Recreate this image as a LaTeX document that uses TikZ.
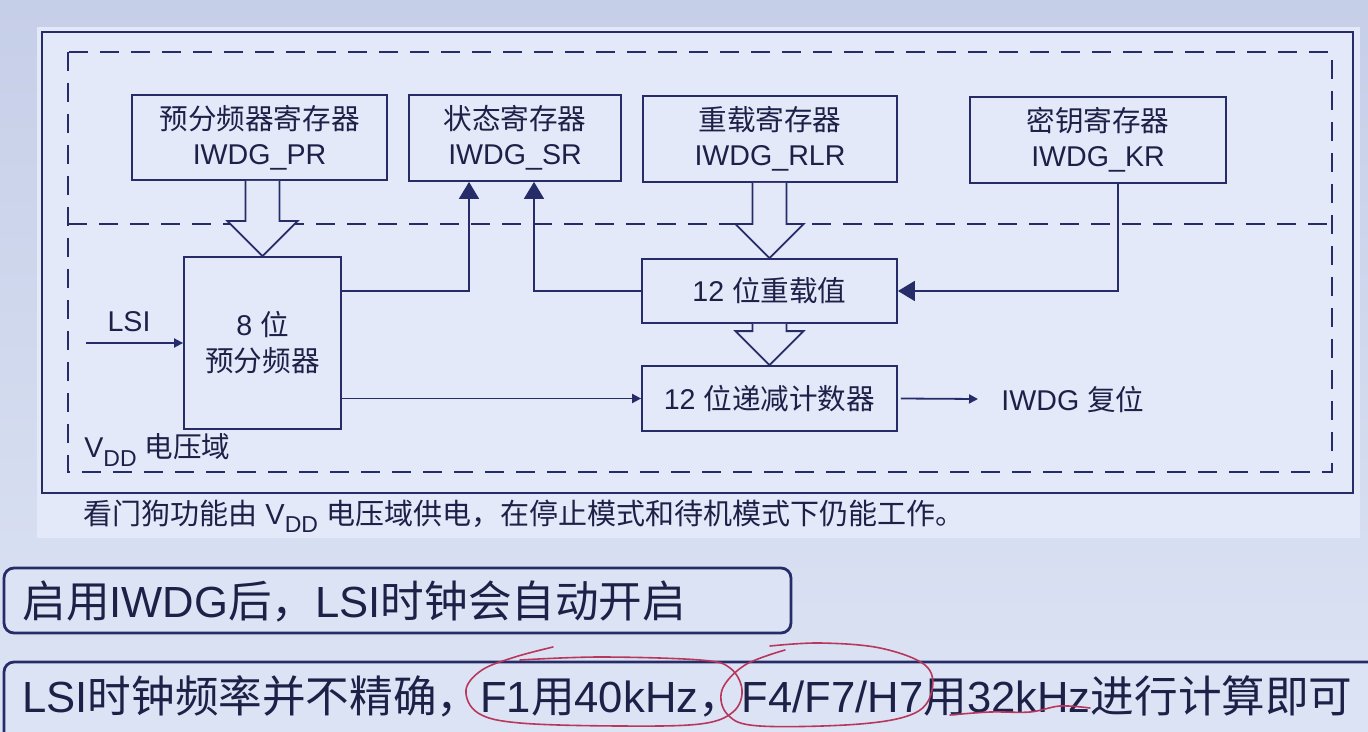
\documentclass[tikz,border=0pt]{standalone}
\usepackage{fontspec}
\setmainfont{Liberation Sans}
\newfontfamily\cjk{Noto Sans CJK SC}
\usetikzlibrary{arrows.meta,calc}
\newcommand\C[1]{{\cjk #1}}
\newcommand\Vdd{V\raisebox{-0.28em}{\fontsize{11.5}{12}\selectfont DD}}
\definecolor{bgtop}{HTML}{C6CFE8}
\definecolor{bgbot}{HTML}{DCE3F4}
\definecolor{panel}{HTML}{E3E9F8}
\definecolor{linec}{HTML}{262C68}
\definecolor{txt}{HTML}{1D2148}
\definecolor{pen}{HTML}{B8375C}
\tikzset{
  lc/.style={draw=linec, line width=0.9pt},
  reg/.style={lc, fill=panel, inner sep=0pt, align=center, text=txt,
    font=\fontsize{14.3}{17.5}\selectfont},
  lab/.style={text=txt, inner sep=0pt, font=\fontsize{14.3}{17.5}\selectfont},
  big/.style={lc, -{Triangle[length=8.5pt,width=10pt]}},
  small/.style={lc, -{Triangle[length=4.5pt,width=4.5pt]}},
  hollow/.style={lc, fill=panel},
  dash box/.style={draw=linec, line width=0.9pt, dash pattern=on 9.5pt off 6pt},
  note/.style={draw=linec, line width=1.4pt, fill=bgbot, rounded corners=5pt},
  notetext/.style={text=txt, inner sep=0pt, anchor=west, font=\fontsize{21.8}{26}\selectfont},
  redpen/.style={draw=pen, line width=0.8pt, line cap=round}
}
\begin{document}
\begin{tikzpicture}[x=0.5pt,y=-0.5pt]
\useasboundingbox (0,0) rectangle (1368,732);
\clip (0,0) rectangle (1368,732);
\shade[top color=bgtop, bottom color=bgbot] (0,0) rectangle (1368,732);

% panel
\fill[panel] (37,27) rectangle (1360,538);
\draw[lc] (42,32) rectangle (1353,493);
\draw[dash box] (68,52) rectangle (1332,472);
\draw[dash box] (68,224) -- (1332,224);

% register boxes
\node[reg, minimum width=127.5pt, minimum height=42.5pt] (pr) at (259.5,137.5) {\C{预分频器寄存器}\\IWDG\_PR};
\node[reg, minimum width=106pt, minimum height=43pt] (sr) at (515,138) {\C{状态寄存器}\\IWDG\_SR};
\node[reg, minimum width=127pt, minimum height=43pt] (rlr) at (770,139) {\C{重载寄存器}\\IWDG\_RLR};
\node[reg, minimum width=128pt, minimum height=43pt] (kr) at (1098,140) {\C{密钥寄存器}\\IWDG\_KR};

% lower blocks
\node[reg, minimum width=78.5pt, minimum height=86pt, font=\fontsize{14.3}{18}\selectfont] (pre) at (262.5,343) {8 \C{位}\\\C{预分频器}};
\node[reg, minimum width=127.5pt, minimum height=32pt] (rv) at (769.5,291) {12 \C{位重载值}};
\node[reg, minimum width=127.5pt, minimum height=32.5pt] (cnt) at (769.5,398.5) {12 \C{位递减计数器}};

% hollow arrows
\draw[hollow] let \p1=(pr.south), \p2=(pre.north) in
  (\x2-8.5pt,\y1) -- (\x2-8.5pt,\y2+17.5pt) -- (\x2-17.5pt,\y2+17.5pt) -- (\x2,\y2)
  -- (\x2+17.5pt,\y2+17.5pt) -- (\x2+8.5pt,\y2+17.5pt) -- (\x2+8.5pt,\y1);
\draw[hollow] let \p1=(rlr.south), \p2=(rv.north) in
  (\x2-8.5pt,\y1) -- (\x2-8.5pt,\y2+17pt) -- (\x2-17pt,\y2+17pt) -- (\x2,\y2)
  -- (\x2+17pt,\y2+17pt) -- (\x2+8.5pt,\y2+17pt) -- (\x2+8.5pt,\y1);
\draw[hollow] let \p1=(rv.south), \p2=(cnt.north) in
  (\x2-8.5pt,\y1) -- (\x2-8.5pt,\y2+17pt) -- (\x2-17pt,\y2+17pt) -- (\x2,\y2)
  -- (\x2+17pt,\y2+17pt) -- (\x2+8.5pt,\y2+17pt) -- (\x2+8.5pt,\y1);

% connectors
\draw[big] (pre.east |- rv.west) -| ([xshift=-23pt]sr.south);
\draw[big] (rv.west) -| ([xshift=9.5pt]sr.south);
\draw[big] ([xshift=10pt]kr.south) |- (rv.east);

\coordinate (lsiin) at (86,343);
\node[lab] (lsi) at (129,322) {LSI};
\draw[small] (lsiin) -- (pre.west);
\draw[small] (pre.east |- cnt.west) -- (cnt.west);
\coordinate (rstout) at (978,399);
\draw[small] ([xshift=1.5pt]cnt.east) -- (rstout);
\node[lab, anchor=west] (rst) at (1001,400) {IWDG \C{复位}};
\node[lab, anchor=west] (vdd) at (84,450) {\Vdd{} \C{电压域}};

% caption
\node[lab, anchor=west, font=\fontsize{14.5}{17.5}\selectfont] (cap) at (83,516) {\C{看门狗功能由} \Vdd{} \C{电压域供电，在停止模式和待机模式下仍能工作。}};

% notes
\path[note] (4,568) rectangle (791,633);
\node[notetext] (n1) at (22,601) {\C{启用}IWDG\C{后，}LSI\C{时钟会自动开启}};
\path[note] (4,662) rectangle (1400,770);
\node[notetext] (n2) at (22,696) {LSI\C{时钟频率并不精确，}F1\C{用}40kHz\C{，}F4/F7/H7\C{用}32kHz\C{进行计算即可}};

% red pen marks
\draw[redpen] plot[smooth, tension=0.6] coordinates {(553,647) (515,657) (482,670) (466,690) (478,713) (520,723) (620,726) (700,724) (733,712) (742,690) (730,668) (700,660) (600,657) (520,660)};
\draw[redpen] plot[smooth, tension=0.6] coordinates {(785,650) (745,665) (722,690) (728,715) (760,726) (860,724) (915,713) (932,690) (925,665) (880,648) (820,643) (770,646)};
\draw[redpen] plot[smooth, tension=0.6] coordinates {(950,715) (990,712) (1030,712) (1060,706) (1090,708)};
\end{tikzpicture}
\end{document}
